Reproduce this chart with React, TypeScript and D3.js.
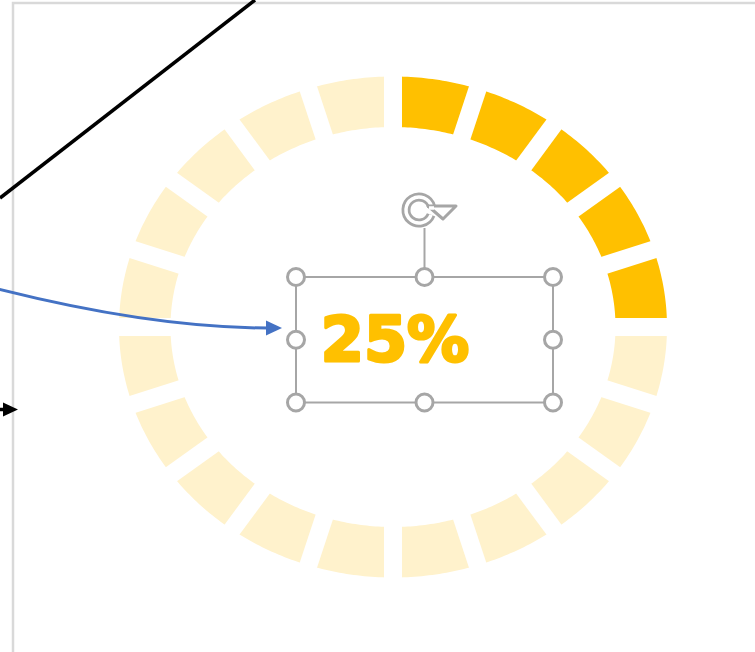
import React, { useEffect, useRef } from 'react'
import * as d3 from 'd3'

const width = 755
const height = 652

// chart values
const progress = [25]          // percent shown in the ring
const segmentTotal = [20]      // number of ring segments
const labels = ['25%']
const ringColors = ['#FFC000', '#FFF2CC']  // done, remaining

const Ring = () => {
  const ref = useRef<SVGSVGElement>(null)

  useEffect(() => {
    const svg = d3.select(ref.current)
    svg.selectAll('*').remove()

    const cx = 393
    const cy = 327
    const outer = { rx: 274, ry: 250.5 }
    const inner = { rx: 222.5, ry: 200 }
    const gap = 18

    const n = segmentTotal[0]
    const done = Math.round((progress[0] / 100) * n)

    // frame of the slide
    svg.append('path')
      .attr('d', `M13,652 L13,3 L${width},3`)
      .attr('fill', 'none')
      .attr('stroke', '#d9d9d9')
      .attr('stroke-width', 2.5)

    // segments from d3.pie, drawn on an ellipse
    const pie = d3.pie<number>().sort(null).value(d => d)
    const arcs = pie(new Array(n).fill(1))

    const pt = (e: { rx: number; ry: number }, a: number): [number, number] =>
      [cx + e.rx * Math.sin(a), cy - e.ry * Math.cos(a)]

    const line = d3.line().curve(d3.curveLinearClosed)

    const segPath = (a0: number, a1: number) => {
      const steps = 24
      const pts: [number, number][] = []
      for (let i = 0; i <= steps; i++) pts.push(pt(outer, a0 + (a1 - a0) * i / steps))
      for (let i = steps; i >= 0; i--) pts.push(pt(inner, a0 + (a1 - a0) * i / steps))
      return line(pts)
    }

    const ring = svg.append('g')
    ring.selectAll('path.seg')
      .data(arcs)
      .join('path')
      .attr('class', 'seg')
      .attr('d', d => segPath(d.startAngle, d.endAngle))
      .attr('fill', (d, i) => i < done ? ringColors[0] : ringColors[1])

    // white gaps between segments
    const inE = { rx: inner.rx - 6, ry: inner.ry - 6 }
    const outE = { rx: outer.rx + 6, ry: outer.ry + 6 }
    ring.selectAll('line.gap')
      .data(arcs)
      .join('line')
      .attr('class', 'gap')
      .attr('x1', d => pt(inE, d.startAngle)[0])
      .attr('y1', d => pt(inE, d.startAngle)[1])
      .attr('x2', d => pt(outE, d.startAngle)[0])
      .attr('y2', d => pt(outE, d.startAngle)[1])
      .attr('stroke', '#fff')
      .attr('stroke-width', gap)

    // big label
    svg.append('text')
      .attr('x', 395)
      .attr('y', 361)
      .attr('text-anchor', 'middle')
      .attr('font-family', 'DejaVu Sans')
      .attr('font-weight', 'bold')
      .attr('font-size', 62)
      .attr('fill', ringColors[0])
      .attr('stroke', ringColors[0])
      .attr('stroke-width', 3)
      .attr('stroke-linejoin', 'round')
      .text(labels[0])

    // selection box around the label
    const grey = '#a6a6a6'
    const box = { x0: 296, x1: 553, y0: 277, y1: 402.5 }
    const xm = (box.x0 + box.x1) / 2
    const ym = (box.y0 + box.y1) / 2

    svg.append('rect')
      .attr('x', box.x0)
      .attr('y', box.y0)
      .attr('width', box.x1 - box.x0)
      .attr('height', box.y1 - box.y0)
      .attr('fill', 'none')
      .attr('stroke', grey)
      .attr('stroke-width', 2)

    svg.append('line')
      .attr('x1', xm).attr('x2', xm)
      .attr('y1', 228).attr('y2', box.y0)
      .attr('stroke', grey)
      .attr('stroke-width', 2)

    // rotate handle
    const rot = svg.append('g').attr('transform', 'translate(419,210)')
    const rotArc = d3.arc()({ innerRadius: 13, outerRadius: 13, startAngle: Math.PI * 0.62, endAngle: Math.PI * 2.42 }) as string
    rot.append('path').attr('d', rotArc).attr('fill', 'none').attr('stroke', grey).attr('stroke-width', 9)
    rot.append('path').attr('d', rotArc).attr('fill', 'none').attr('stroke', '#fff').attr('stroke-width', 3.5)
    rot.append('path')
      .attr('d', 'M9,-4 L37,-4 L24,9 Z')
      .attr('fill', '#fff')
      .attr('stroke', grey)
      .attr('stroke-width', 3)
      .attr('stroke-linejoin', 'round')
    rot.append('path').attr('d', 'M10,-2 L15,-2').attr('stroke', '#fff').attr('stroke-width', 3.5)

    const handles: [number, number][] = [
      [box.x0, box.y0], [xm, box.y0], [box.x1, box.y0],
      [box.x0, ym], [box.x1, ym],
      [box.x0, box.y1], [xm, box.y1], [box.x1, box.y1],
    ]
    svg.selectAll('circle.handle')
      .data(handles)
      .join('circle')
      .attr('class', 'handle')
      .attr('cx', d => d[0])
      .attr('cy', d => d[1])
      .attr('r', 8.5)
      .attr('fill', '#fff')
      .attr('stroke', grey)
      .attr('stroke-width', 3)

    // connectors
    svg.append('line')
      .attr('x1', 0).attr('y1', 198)
      .attr('x2', 255).attr('y2', 0)
      .attr('stroke', '#000')
      .attr('stroke-width', 3.5)

    svg.append('path')
      .attr('d', 'M-10,287 Q150,328 268,328')
      .attr('fill', 'none')
      .attr('stroke', '#4472C4')
      .attr('stroke-width', 3)
    svg.append('path')
      .attr('d', 'M282,328 L266,320.5 L266,335.5 Z')
      .attr('fill', '#4472C4')

    svg.append('line')
      .attr('x1', -5).attr('y1', 409.5)
      .attr('x2', 8).attr('y2', 409.5)
      .attr('stroke', '#000')
      .attr('stroke-width', 3.5)
    svg.append('path')
      .attr('d', 'M18,409.5 L3,402.5 L3,416.5 Z')
      .attr('fill', '#000')
  }, [])

  return <svg ref={ref} width={width} height={height} style={{ position: 'fixed', left: 0, top: 0, background: '#fff' }} />
}

export default function App() {
  return <Ring />
}
